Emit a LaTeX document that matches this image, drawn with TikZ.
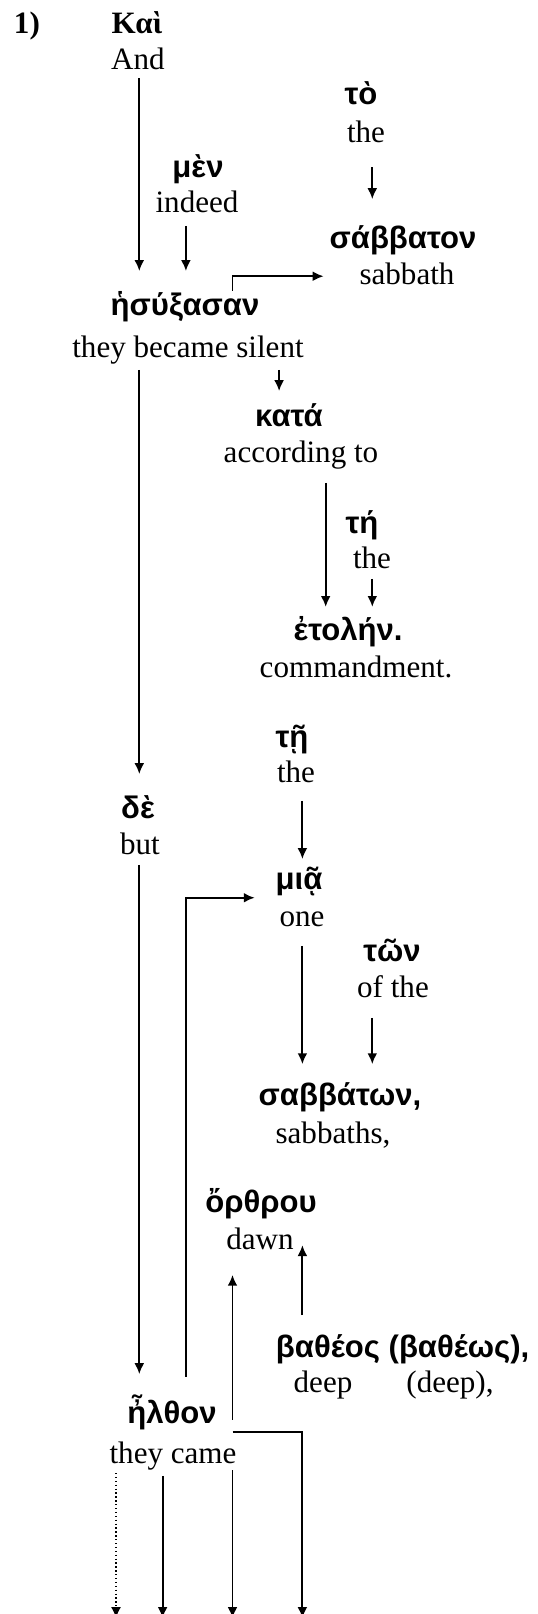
\documentclass[tikz,border=0pt]{standalone}
\usepackage{fontspec}
\setmainfont{Liberation Serif}
\newfontfamily\grk{Liberation Sans}
\usetikzlibrary{arrows.meta}

\begin{document}
\begin{tikzpicture}[>={Latex[length=4.2pt,width=3.8pt]},x=0.386pt,y=-0.386pt,line width=0.75pt,
  gr/.style={font=\fontsize{12}{14}\selectfont\grk\bfseries,inner sep=0pt,text height=9pt,text depth=3pt,anchor=base},
  en/.style={font=\fontsize{12}{14}\selectfont\rmfamily,inner sep=0pt,text height=8.5pt,text depth=2.5pt,anchor=base}]
  \useasboundingbox (0,0) rectangle (538,1614);
  \foreach \k in {5,...,16}
    \coordinate (col-\k) at ({23.3*\k-0.5},0);
  \coordinate (bot) at (0,1618);
%%
  % Node: 1)
  \node[en,anchor=base west,font=\fontsize{12}{14}\selectfont\bfseries] (num) at (13,33) {1)};
  % Node: kai
  \node[gr,font=\fontsize{12}{14}\selectfont\rmfamily\bfseries] (kai) at (137,33) {Καὶ};
  \node[en] (and) at (138,69) {And};
  % Node: to
  \node[gr] (to) at (361,104) {τὸ};
  \node[en] (the1) at (366,142) {the};
  % Node: men
  \node[gr] (men) at (198,177) {μὲν};
  \node[en] (indeed) at (197,212) {indeed};
  % Node: sabbaton
  \node[gr] (sabbaton) at (403,248) {σάββατον};
  \node[en] (sabbath) at (407,284) {sabbath};
  % Node: hesy
  \node[gr] (hesy) at (185,315) {ἡσύξασαν};
  \node[en] (silent) at (188,357) {they became silent};
  % Node: kata
  \node[gr] (kata) at (289,426) {κατά};
  \node[en] (accord) at (301,462) {according to};
  % Node: te
  \node[gr] (te) at (362,533) {τή};
  \node[en] (the2) at (372,568) {the};
  % Node: etolen
  \node[gr] (etolen) at (348,640) {ἐτολήν.};
  \node[en] (command) at (356,677) {commandment.};
  % Node: tei
  \node[gr] (tei) at (292,747) {τῇ};
  \node[en] (the3) at (296,782) {the};
  % Node: de
  \node[gr] (de) at (138,818) {δὲ};
  \node[en] (but) at (140,854) {but};
  % Node: mia
  \node[gr] (mia) at (299,889) {μιᾷ};
  \node[en] (one) at (302,926) {one};
  % Node: ton
  \node[gr] (ton) at (392,961) {τῶν};
  \node[en] (ofthe) at (393,997) {of the};
  % Node: sabbaton2
  \node[gr] (sabbaton2) at (340,1105) {σαββάτων,};
  \node[en] (sabbaths) at (333,1143) {sabbaths,};
  % Node: orthrou
  \node[gr] (orthrou) at (261,1212) {ὄρθρου};
  \node[en] (dawn) at (260,1249) {dawn};
  % Node: batheos
  \node[gr,anchor=base west] (batheos) at (275,1357) {βαθέος (βαθέως),};
  \node[en] (deep) at (323,1392) {deep};
  \node[en] (deep2) at (450,1392) {(deep),};
  % Node: elthon
  \node[gr] (elthon) at (172,1423) {ἦλθον};
  \node[en] (came) at (173,1463) {they came};
%%
  % Edge: kai -> hesy
  \draw [->,shorten <=0.6pt,shorten >=7.6pt] (and.south -| col-6) -- (hesy.north -| col-6);
  % Edge: men -> hesy
  \draw [->,shorten <=2.5pt,shorten >=7.6pt] (indeed.south -| col-8) -- (hesy.north -| col-8);
  % Edge: to -> sabbaton
  \draw [->,shorten <=6.8pt,shorten >=9.5pt] (the1.south -| col-16) -- (sabbaton.north -| col-16);
  % Edge: hesy -> sabbaton
  \draw [->,shorten >=13.5pt] (hesy.north -| col-10) |- (sabbath.west);
  % Edge: hesy -> de
  \draw [->,shorten <=2.1pt,shorten >=7.6pt] (silent.south -| col-6) -- (de.north -| col-6);
  % Edge: hesy -> kata
  \draw [->,shorten <=2.1pt,shorten >=4.1pt] (silent.south -| col-12) -- (kata.north -| col-12);
  % Edge: kata -> etolen
  \draw [->,shorten <=5.2pt,shorten >=3.4pt] (accord.south -| col-14) -- (etolen.north -| col-14);
  % Edge: te -> etolen
  \draw [->,shorten <=1.35pt,shorten >=3.4pt] (the2.south -| col-16) -- (etolen.north -| col-16);
  % Edge: tei -> mia
  \draw [->,shorten <=4.4pt,shorten >=2.2pt] (the3.south -| col-13) -- (mia.north -| col-13);
  % Edge: de -> elthon
  \draw [->,shorten <=1.35pt,shorten >=9.5pt] (but.south -| col-6) -- (elthon.north -| col-6);
  % Edge: elthon -> mia
  \draw [->,shorten <=8.4pt,shorten >=7.7pt] (elthon.north -| col-8) |- (mia.south west);
  % Edge: mia -> sabbaton2
  \draw [->,shorten <=4.8pt,shorten >=6.4pt] (one.south -| col-13) -- (sabbaton2.north -| col-13);
  % Edge: ton -> sabbaton2
  \draw [->,shorten <=5.2pt,shorten >=6.4pt] (ofthe.south -| col-16) -- (sabbaton2.north -| col-16);
  % Edge: batheos -> orthrou
  \draw [->,shorten <=6.8pt,shorten >=0.8pt] (batheos.north -| col-13) -- (dawn.mid -| col-13);
  % Edge: elthon -> orthrou
  \draw [->,shorten <=1.2pt,shorten >=7.1pt] (elthon.base -| col-10) -- (dawn.south -| col-10);
  % Edge: elthon -> below
  \draw [->] (elthon.south -| col-10) -| (bot -| col-13);
  \draw [->,densely dotted,line width=0.5pt,shorten <=1pt] (came.south -| col-5) -- (bot -| col-5);
  \draw [->,shorten <=2.1pt] (came.south -| col-7) -- (bot -| col-7);
  \draw [->] (came.south -| col-10) -- (bot -| col-10);
%
\end{tikzpicture}
\end{document}
